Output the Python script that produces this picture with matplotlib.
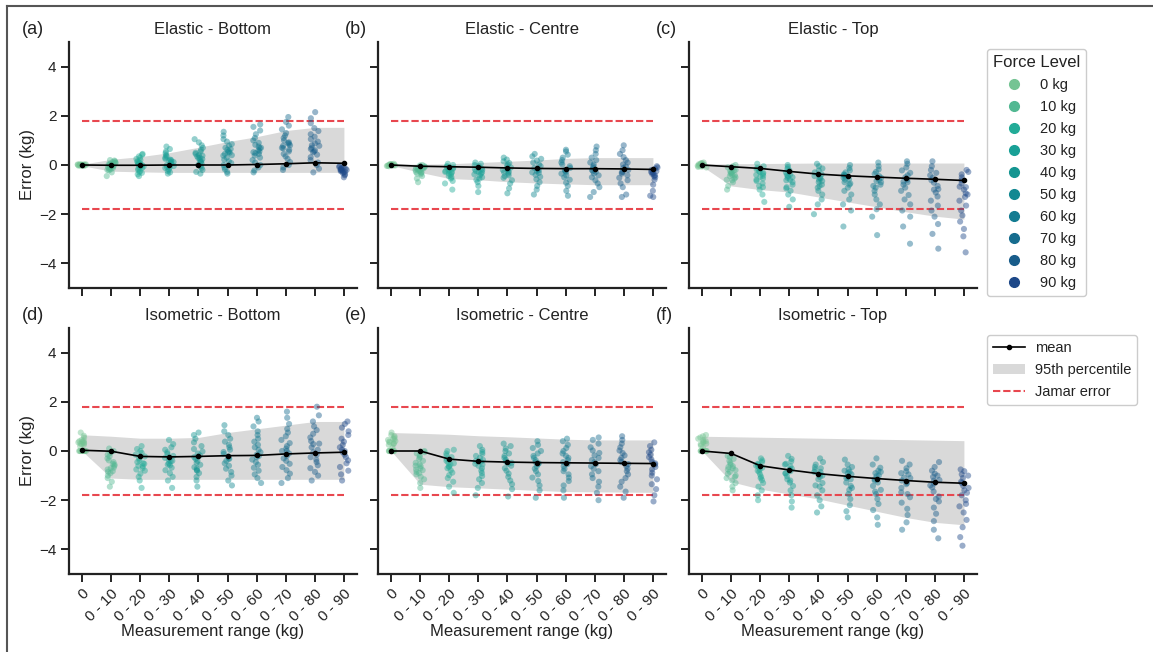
import numpy as np
import pandas as pd
import matplotlib
matplotlib.use("Agg")
import matplotlib.pyplot as plt
import seaborn as sns
from matplotlib.lines import Line2D
from matplotlib.patches import Patch

plt.rcParams['font.family'] = ['Liberation Sans', 'DejaVu Sans']

# ---------------- data ----------------
categories = ['0', '0 - 10', '0 - 20', '0 - 30', '0 - 40', '0 - 50',
              '0 - 60', '0 - 70', '0 - 80', '0 - 90']
force_labels = ['0 kg', '10 kg', '20 kg', '30 kg', '40 kg', '50 kg',
                '60 kg', '70 kg', '80 kg', '90 kg']
force_colors = ['#74c493', '#52b892', '#22ab97', '#18a096', '#149591',
                '#138892', '#137b91', '#166c8e', '#185c8a', '#1d4888']
jamar_error = 1.8
panel_titles = ['Elastic - Bottom', 'Elastic - Centre', 'Elastic - Top',
                'Isometric - Bottom', 'Isometric - Centre', 'Isometric - Top']
panel_letters = ['(a)', '(b)', '(c)', '(d)', '(e)', '(f)']

# (a) Elastic - Bottom
a_points = [
    [0.0, 0.02, -0.02, 0.01, -0.01, 0.03, -0.03, 0.0, 0.01, -0.01, 0.02, -0.02, 0.0, 0.04, -0.04, 0.0],
    [-0.45, -0.3, -0.22, -0.18, -0.15, -0.12, -0.1, -0.08, -0.05, -0.03, 0.0, 0.02, 0.05, 0.08, 0.1, 0.12, 0.15, 0.18, 0.2, -0.2, -0.06, 0.04],
    [-0.45, -0.38, -0.3, -0.25, -0.2, -0.15, -0.1, -0.06, -0.02, 0.02, 0.05, 0.08, 0.12, 0.15, 0.2, 0.25, 0.3, 0.35, 0.42, 0.45, -0.12, 0.0, 0.1, -0.32],
    [-0.35, -0.3, -0.25, -0.18, -0.12, -0.08, -0.04, 0.0, 0.05, 0.1, 0.14, 0.18, 0.22, 0.25, 0.3, 0.35, 0.4, 0.48, 0.55, 0.65, 0.75, 0.12, 0.2, -0.1],
    [-0.35, -0.28, -0.2, -0.12, -0.05, 0.0, 0.05, 0.12, 0.18, 0.24, 0.3, 0.35, 0.4, 0.45, 0.5, 0.55, 0.62, 0.7, 0.8, 0.92, 1.05, 0.28, 0.38, 0.15],
    [-0.35, -0.28, -0.18, -0.1, 0.0, 0.08, 0.15, 0.22, 0.3, 0.38, 0.45, 0.5, 0.55, 0.62, 0.7, 0.78, 0.85, 0.95, 1.05, 1.2, 1.35, 0.4, 0.52, 0.65],
    [-0.3, -0.22, -0.1, 0.0, 0.1, 0.2, 0.3, 0.38, 0.45, 0.52, 0.6, 0.68, 0.75, 0.82, 0.9, 1.0, 1.1, 1.25, 1.4, 1.55, 1.65, 0.55, 0.7, 0.48],
    [-0.2, -0.1, 0.0, 0.12, 0.25, 0.35, 0.45, 0.55, 0.62, 0.7, 0.78, 0.85, 0.92, 1.0, 1.1, 1.2, 1.3, 1.45, 1.6, 1.75, 1.95, 0.68, 0.8, 0.9],
    [-0.3, -0.15, 0.0, 0.1, 0.2, 0.32, 0.42, 0.52, 0.6, 0.7, 0.78, 0.88, 0.95, 1.05, 1.15, 1.25, 1.38, 1.5, 1.7, 1.9, 2.15, 0.65, 0.8, 0.55],
    [-0.5, -0.42, -0.38, -0.32, -0.28, -0.25, -0.22, -0.2, -0.18, -0.15, -0.12, -0.1, -0.08, -0.05, -0.3, -0.2, -0.15],
]
a_mean = [0.0, -0.01, -0.01, 0.0, 0.0, 0.0, 0.02, 0.05, 0.09, 0.07]
a_p_low = [-0.03, -0.25, -0.28, -0.3, -0.3, -0.3, -0.3, -0.3, -0.3, -0.3]
a_p_high = [0.03, 0.23, 0.34, 0.5, 0.72, 0.95, 1.15, 1.4, 1.53, 1.53]

# (b) Elastic - Centre
b_points = [
    [0.0, 0.02, -0.02, 0.04, -0.04, 0.01, -0.01, 0.03, -0.03, 0.0, 0.05, -0.05, 0.02, -0.02],
    [-0.7, -0.55, -0.45, -0.38, -0.32, -0.28, -0.25, -0.2, -0.18, -0.15, -0.12, -0.1, -0.08, -0.05, -0.02, 0.0, -0.3, -0.22, -0.14, -0.35],
    [-1.0, -0.75, -0.65, -0.55, -0.45, -0.4, -0.35, -0.3, -0.25, -0.2, -0.16, -0.12, -0.08, -0.04, 0.0, 0.05, -0.28, -0.32, -0.22, -0.5],
    [-1.1, -0.85, -0.7, -0.6, -0.5, -0.42, -0.35, -0.3, -0.25, -0.2, -0.15, -0.1, -0.05, 0.0, 0.05, 0.1, -0.28, -0.18, -0.38, -0.55],
    [-1.15, -0.95, -0.75, -0.62, -0.52, -0.42, -0.35, -0.28, -0.22, -0.15, -0.1, -0.04, 0.02, 0.08, 0.15, 0.22, 0.3, -0.3, -0.2, -0.45],
    [-1.2, -1.0, -0.85, -0.7, -0.58, -0.48, -0.4, -0.32, -0.25, -0.18, -0.12, -0.05, 0.02, 0.1, 0.18, 0.25, 0.35, 0.45, -0.22, -0.3],
    [-1.25, -1.05, -0.85, -0.72, -0.6, -0.5, -0.42, -0.35, -0.28, -0.2, -0.12, -0.05, 0.02, 0.1, 0.2, 0.3, 0.42, 0.55, 0.62, -0.25],
    [-1.3, -1.1, -0.9, -0.75, -0.62, -0.5, -0.42, -0.35, -0.28, -0.2, -0.12, -0.05, 0.02, 0.1, 0.2, 0.3, 0.45, 0.6, 0.75, -0.25],
    [-1.3, -1.2, -0.9, -0.75, -0.62, -0.52, -0.42, -0.35, -0.28, -0.2, -0.12, -0.05, 0.02, 0.1, 0.2, 0.32, 0.45, 0.6, 0.8, -0.3],
    [-1.3, -1.25, -1.05, -0.8, -0.6, -0.5, -0.42, -0.36, -0.3, -0.25, -0.2, -0.15, -0.1, -0.05, -0.35, -0.28, -0.45],
]
b_mean = [0.0, -0.05, -0.07, -0.09, -0.12, -0.14, -0.15, -0.15, -0.16, -0.18]
b_p_low = [-0.02, -0.3, -0.55, -0.6, -0.68, -0.73, -0.77, -0.8, -0.8, -0.8]
b_p_high = [0.05, 0.03, 0.05, 0.1, 0.15, 0.2, 0.27, 0.3, 0.3, 0.3]

# (c) Elastic - Top
c_points = [
    [0.0, 0.05, -0.05, 0.08, -0.08, 0.02, -0.02, 0.1, -0.1, 0.03, -0.03, 0.0, 0.06, -0.06],
    [-1.0, -0.85, -0.7, -0.62, -0.55, -0.5, -0.45, -0.4, -0.35, -0.3, -0.25, -0.2, -0.15, -0.1, -0.05, 0.0, -0.42, -0.32, -0.6, -0.22],
    [-1.5, -1.2, -1.0, -0.85, -0.75, -0.65, -0.55, -0.48, -0.4, -0.32, -0.25, -0.18, -0.12, -0.05, 0.05, -0.36, -0.44, -0.6, -0.28, -0.9],
    [-1.7, -1.4, -1.2, -1.05, -0.9, -0.8, -0.7, -0.6, -0.52, -0.45, -0.38, -0.3, -0.22, -0.15, -0.08, 0.0, -0.5, -0.62, -0.4, -0.95],
    [-2.0, -1.6, -1.4, -1.2, -1.05, -0.92, -0.8, -0.7, -0.6, -0.52, -0.45, -0.38, -0.3, -0.22, -0.14, -0.05, 0.05, -0.55, -0.65, -0.85],
    [-2.5, -1.85, -1.6, -1.4, -1.2, -1.05, -0.92, -0.8, -0.7, -0.6, -0.52, -0.45, -0.38, -0.3, -0.22, -0.12, 0.0, -0.58, -0.75, -0.4],
    [-2.85, -2.1, -1.8, -1.6, -1.4, -1.2, -1.05, -0.92, -0.8, -0.7, -0.6, -0.52, -0.45, -0.36, -0.28, -0.18, -0.05, 0.1, -0.65, -0.85],
    [-3.2, -2.5, -2.1, -1.85, -1.6, -1.4, -1.22, -1.05, -0.92, -0.8, -0.7, -0.6, -0.5, -0.42, -0.32, -0.22, -0.1, 0.05, 0.15, -0.68],
    [-3.4, -2.8, -2.4, -2.1, -1.85, -1.65, -1.45, -1.28, -1.12, -0.98, -0.85, -0.72, -0.62, -0.52, -0.42, -0.32, -0.2, -0.05, 0.15, -1.0],
    [-3.55, -2.9, -2.6, -2.3, -2.05, -1.85, -1.65, -1.45, -1.3, -1.15, -1.0, -0.88, -0.75, -0.62, -0.5, -0.38, -0.28, -0.2, -1.2, -0.9],
]
c_mean = [0.0, -0.07, -0.14, -0.26, -0.37, -0.44, -0.49, -0.54, -0.58, -0.63]
c_p_low = [-0.05, -0.85, -1.0, -1.1, -1.3, -1.5, -1.7, -1.9, -2.08, -2.2]
c_p_high = [0.04, 0.05, 0.06, 0.07, 0.08, 0.08, 0.08, 0.08, 0.08, 0.08]

# (d) Isometric - Bottom
d_points = [
    [0.0, 0.0, 0.0, 0.0, 0.0, 0.0, 0.0, 0.0, 0.2, 0.28, 0.32, 0.35, 0.38, 0.4, 0.3, 0.25, 0.45, 0.55, 0.62, 0.75, 0.35, 0.42],
    [-1.45, -1.25, -1.1, -1.0, -0.9, -0.82, -0.75, -0.68, -0.6, -0.52, -0.45, -0.38, -0.3, -0.22, -0.15, -0.08, 0.0, 0.1, -0.55, -0.7, -0.85],
    [-1.5, -1.2, -1.05, -0.92, -0.8, -0.7, -0.6, -0.52, -0.45, -0.38, -0.3, -0.22, -0.15, -0.08, 0.0, 0.08, 0.2, -0.5, -0.62, -0.75],
    [-1.5, -1.2, -1.05, -0.9, -0.78, -0.68, -0.58, -0.5, -0.42, -0.35, -0.28, -0.2, -0.12, -0.05, 0.05, 0.15, 0.28, 0.45, -0.4, -0.55],
    [-1.45, -1.2, -1.05, -0.9, -0.78, -0.66, -0.56, -0.48, -0.4, -0.32, -0.25, -0.18, -0.1, -0.02, 0.08, 0.2, 0.35, 0.5, 0.65, 0.75, -0.8, -0.72],
    [-1.4, -1.2, -1.0, -0.85, -0.72, -0.6, -0.5, -0.4, -0.32, -0.22, -0.12, -0.04, 0.05, 0.15, 0.25, 0.38, 0.5, 0.65, 0.8, 1.05, -0.3],
    [-1.3, -1.1, -0.95, -0.8, -0.68, -0.56, -0.45, -0.35, -0.25, -0.15, -0.05, 0.05, 0.15, 0.25, 0.38, 0.5, 0.65, 0.8, 1.0, 1.2, 1.35, -0.2],
    [-1.3, -1.1, -0.92, -0.78, -0.65, -0.52, -0.4, -0.3, -0.2, -0.1, 0.0, 0.1, 0.2, 0.32, 0.45, 0.6, 0.75, 0.9, 1.1, 1.35, 1.6, 0.0],
    [-1.2, -1.0, -0.85, -0.7, -0.58, -0.45, -0.35, -0.25, -0.15, -0.05, 0.05, 0.15, 0.28, 0.4, 0.55, 0.7, 0.85, 1.0, 1.2, 1.45, 1.8, 0.3],
    [-1.2, -0.95, -0.8, -0.65, -0.5, -0.38, -0.25, -0.15, -0.05, 0.05, 0.15, 0.25, 0.38, 0.5, 0.65, 0.8, 0.95, 1.1, 1.2, 0.0],
]
d_mean = [0.03, -0.01, -0.22, -0.24, -0.22, -0.19, -0.18, -0.12, -0.08, -0.05]
d_p_low = [0.0, -1.1, -1.15, -1.15, -1.15, -1.15, -1.15, -1.15, -1.15, -1.15]
d_p_high = [0.66, 0.6, 0.52, 0.52, 0.55, 0.75, 0.9, 1.05, 1.2, 1.2]

# (e) Isometric - Centre
e_points = [
    [0.0, 0.0, 0.0, 0.0, 0.0, 0.0, 0.0, 0.0, 0.15, 0.25, 0.3, 0.35, 0.4, 0.45, 0.5, 0.55, 0.6, 0.65, 0.75, 0.38, 0.48, 0.3],
    [-1.5, -1.3, -1.15, -1.05, -0.95, -0.85, -0.78, -0.7, -0.62, -0.55, -0.48, -0.4, -0.32, -0.25, -0.18, -0.1, -0.05, 0.0, -0.6, -0.75, -0.9],
    [-1.7, -1.45, -1.25, -1.1, -0.98, -0.88, -0.78, -0.7, -0.62, -0.55, -0.48, -0.4, -0.32, -0.25, -0.18, -0.1, 0.0, 0.05, -0.5, -0.65],
    [-1.8, -1.5, -1.3, -1.15, -1.02, -0.9, -0.8, -0.7, -0.6, -0.52, -0.44, -0.36, -0.28, -0.2, -0.12, -0.04, 0.05, 0.2, -0.55, -0.4],
    [-1.85, -1.55, -1.35, -1.2, -1.05, -0.92, -0.8, -0.7, -0.6, -0.52, -0.44, -0.36, -0.28, -0.2, -0.1, 0.0, 0.1, 0.2, 0.3, -0.48],
    [-1.9, -1.6, -1.4, -1.22, -1.08, -0.95, -0.82, -0.72, -0.62, -0.53, -0.45, -0.37, -0.28, -0.2, -0.1, 0.0, 0.12, 0.25, 0.4, -0.5],
    [-1.9, -1.6, -1.4, -1.22, -1.08, -0.95, -0.82, -0.72, -0.62, -0.53, -0.45, -0.37, -0.28, -0.2, -0.1, 0.0, 0.12, 0.25, 0.4, 0.5],
    [-2.0, -1.7, -1.45, -1.25, -1.1, -0.95, -0.82, -0.72, -0.62, -0.53, -0.45, -0.37, -0.28, -0.18, -0.08, 0.02, 0.15, 0.3, 0.45, 0.55],
    [-1.9, -1.65, -1.45, -1.25, -1.1, -0.95, -0.82, -0.72, -0.62, -0.53, -0.45, -0.37, -0.28, -0.18, -0.08, 0.02, 0.15, 0.3, 0.45, 0.6],
    [-2.05, -1.8, -1.55, -1.35, -1.15, -1.0, -0.88, -0.75, -0.65, -0.55, -0.45, -0.35, -0.25, -0.15, -0.05, 0.05, 0.2, 0.35, -0.5],
]
e_mean = [0.0, 0.0, -0.33, -0.42, -0.45, -0.47, -0.48, -0.49, -0.5, -0.51]
e_p_low = [0.0, -1.35, -1.45, -1.5, -1.55, -1.6, -1.65, -1.66, -1.67, -1.68]
e_p_high = [0.75, 0.72, 0.68, 0.62, 0.58, 0.53, 0.48, 0.45, 0.45, 0.45]

# (f) Isometric - Top
f_points = [
    [0.0, 0.0, 0.0, 0.0, 0.0, 0.0, 0.0, 0.0, 0.15, 0.22, 0.3, 0.35, 0.4, 0.45, 0.5, 0.55, 0.6, 0.65, 0.38, 0.28],
    [-1.6, -1.45, -1.3, -1.2, -1.1, -1.0, -0.92, -0.85, -0.78, -0.7, -0.62, -0.55, -0.48, -0.4, -0.32, -0.25, -0.2, -0.65, -0.75, -1.05],
    [-2.0, -1.8, -1.6, -1.45, -1.3, -1.18, -1.05, -0.95, -0.85, -0.75, -0.68, -0.6, -0.52, -0.45, -0.38, -0.3, -0.62, -0.8, -1.1, -0.55],
    [-2.3, -2.05, -1.8, -1.6, -1.42, -1.28, -1.15, -1.02, -0.92, -0.82, -0.72, -0.62, -0.52, -0.42, -0.32, -0.2, -0.75, -0.9, -1.2, -0.55],
    [-2.5, -2.25, -2.0, -1.8, -1.6, -1.45, -1.3, -1.15, -1.05, -0.95, -0.85, -0.75, -0.65, -0.55, -0.45, -0.3, -0.85, -1.0, -1.4, -0.7],
    [-2.7, -2.45, -2.2, -1.95, -1.75, -1.58, -1.42, -1.28, -1.15, -1.05, -0.95, -0.85, -0.75, -0.65, -0.55, -0.35, -0.9, -1.1, -1.5, -0.8],
    [-3.0, -2.7, -2.4, -2.15, -1.95, -1.75, -1.58, -1.42, -1.28, -1.15, -1.02, -0.9, -0.8, -0.68, -0.55, -0.3, -1.0, -1.2, -1.65, -0.85],
    [-3.2, -2.9, -2.6, -2.35, -2.1, -1.88, -1.68, -1.5, -1.35, -1.2, -1.08, -0.95, -0.82, -0.7, -0.55, -0.4, -1.1, -1.3, -1.75, -0.9],
    [-3.55, -3.2, -2.85, -2.55, -2.3, -2.05, -1.85, -1.65, -1.48, -1.32, -1.18, -1.05, -0.92, -0.8, -0.65, -0.45, -1.2, -1.4, -1.95, -1.0],
    [-3.85, -3.5, -3.1, -2.8, -2.5, -2.25, -2.0, -1.8, -1.6, -1.42, -1.25, -1.1, -0.95, -0.82, -0.75, -1.5, -1.7, -2.15, -1.3, -1.0],
]
f_mean = [0.0, -0.1, -0.6, -0.77, -0.92, -1.03, -1.12, -1.2, -1.27, -1.31]
f_p_low = [0.0, -1.25, -1.55, -1.75, -1.95, -2.2, -2.45, -2.7, -2.9, -3.0]
f_p_high = [0.6, 0.58, 0.56, 0.54, 0.52, 0.5, 0.48, 0.46, 0.44, 0.42]

panels = [
    (a_points, a_mean, a_p_low, a_p_high),
    (b_points, b_mean, b_p_low, b_p_high),
    (c_points, c_mean, c_p_low, c_p_high),
    (d_points, d_mean, d_p_low, d_p_high),
    (e_points, e_mean, e_p_low, e_p_high),
    (f_points, f_mean, f_p_low, f_p_high),
]

# ---------------- styling ----------------
W, H = 1153, 652
TXT = '#222222'
BAND = '#d9d9d9'
RED = '#e8474f'
RED_DASH = (0, (3.5, 1.4))
ax_boxes = [(69, 42), (378, 42), (689, 42), (69, 328), (378, 328), (689, 328)]
AW, AH = 288, 246
letter_pos = [(22, 30), (345, 30), (656, 30), (22, 316), (345, 316), (656, 316)]

np.random.seed(3)
fig = plt.figure(figsize=(W / 100, H / 100), dpi=100)

for i, (x0, y0) in enumerate(ax_boxes):
    pts, mean, plow, phigh = panels[i]
    ax = fig.add_axes([x0 / W, 1 - (y0 + AH) / H, AW / W, AH / H])
    pos = np.arange(len(categories))
    ax.fill_between(pos, plow, phigh, color=BAND, lw=0, zorder=1)
    ax.hlines([jamar_error, -jamar_error], pos[0], pos[-1], colors=RED,
              linestyles=[RED_DASH], lw=1.5, zorder=2)
    df = pd.DataFrame({
        'cat': np.repeat(categories, [len(p) for p in pts]),
        'err': np.concatenate([np.asarray(p, float) for p in pts]),
    })
    sns.stripplot(data=df, x='cat', y='err', hue='cat', order=categories,
                  hue_order=categories, palette=force_colors, jitter=0.16,
                  size=4.4, alpha=0.45, linewidth=0, legend=False, ax=ax,
                  zorder=3)
    ax.plot(pos, mean, color='black', lw=1.2, marker='o', ms=3, zorder=5)

    ax.set_xlim(-0.45, 9.45)
    ax.set_ylim(-5, 5)
    ax.set_yticks([-4, -2, 0, 2, 4])
    ax.set_xticks(pos)
    for s in ['top', 'right']:
        ax.spines[s].set_visible(False)
    for s in ['left', 'bottom']:
        ax.spines[s].set_linewidth(1.6)
        ax.spines[s].set_color(TXT)
    ax.tick_params(axis='both', length=6, width=1.4, color=TXT,
                   labelcolor=TXT, labelsize=11, pad=3)
    ax.set_xlabel('')
    ax.set_ylabel('')
    if i >= 3:
        ax.set_xticklabels(categories, rotation=45, ha='right',
                           rotation_mode='anchor', fontsize=11)
        ax.set_xlabel('Measurement range (kg)', fontsize=12, color=TXT)
        ax.xaxis.set_label_coords(0.5, -0.205)
    else:
        ax.set_xticklabels([])
    if i % 3 == 0:
        ax.set_ylabel('Error (kg)', fontsize=12, color=TXT)
        ax.yaxis.set_label_coords(-0.118, 0.5)
    else:
        ax.set_yticklabels([])
    ax.set_title(panel_titles[i], fontsize=12, color=TXT, pad=6)
    lx, ly = letter_pos[i]
    fig.text(lx / W, 1 - ly / H, panel_letters[i], fontsize=13, color=TXT,
             ha='left', va='center')

# legends
force_handles = [Line2D([], [], marker='o', ls='', color=c, ms=7)
                 for c in force_colors]
leg1 = fig.legend(force_handles, force_labels, title='Force Level',
                  loc='upper left', bbox_to_anchor=(987 / W, 1 - 49 / H),
                  borderaxespad=0,
                  fontsize=10.5, title_fontsize=12, labelspacing=0.55,
                  handlelength=2.4, handletextpad=0.6, borderpad=0.4,
                  frameon=True, edgecolor='#cccccc', framealpha=1)
for t in leg1.get_texts():
    t.set_color(TXT)
leg1.get_title().set_color(TXT)

stat_handles = [
    Line2D([], [], color='black', lw=1.2, marker='o', ms=3),
    Patch(facecolor=BAND, edgecolor='none'),
    Line2D([], [], color=RED, lw=1.5, ls=RED_DASH),
]
leg2 = fig.legend(stat_handles, ['mean', '95th percentile', 'Jamar error'],
                  loc='upper left', bbox_to_anchor=(987 / W, 1 - 335 / H),
                  borderaxespad=0,
                  fontsize=10.5, labelspacing=0.55, handlelength=2.2,
                  handletextpad=0.7, borderpad=0.4, frameon=True,
                  edgecolor='#cccccc', framealpha=1)
for t in leg2.get_texts():
    t.set_color(TXT)

# figure frame (left and top edges)
fig.add_artist(Line2D([7 / W, 7 / W], [0, 1 - 6 / H], transform=fig.transFigure,
                      color='#555555', lw=1.5))
fig.add_artist(Line2D([7 / W, 1], [1 - 6 / H, 1 - 6 / H], transform=fig.transFigure,
                      color='#555555', lw=1.5))

fig.savefig('out.png', dpi=100)
